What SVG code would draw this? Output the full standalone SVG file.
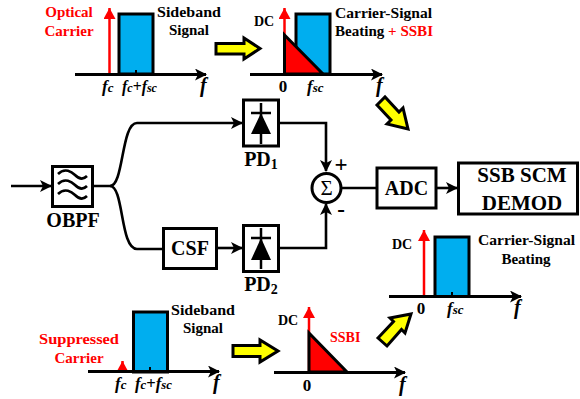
<svg xmlns="http://www.w3.org/2000/svg" width="580" height="399" viewBox="0 0 580 399">
<defs>
<marker id="ah" markerUnits="userSpaceOnUse" markerWidth="14" markerHeight="14" refX="11" refY="6" orient="auto"><path d="M0 0L12 6L0 12L3 6Z" fill="#000"/></marker>
<marker id="ra" markerUnits="userSpaceOnUse" markerWidth="14" markerHeight="14" refX="11" refY="6" orient="auto"><path d="M0 0L11 6L0 12Z" fill="#f00"/></marker>
</defs>
<style>
text{font-family:"Liberation Serif",serif;font-weight:700;fill:#000;font-size:15px}
.m{text-anchor:middle}
.r{fill:#f00}
.d{font-size:14px}
.z{font-size:17px}
.i{font-size:17px;font-style:italic}
.f{font-size:20px;font-style:italic}
.sub{font-size:13px}
.big{font-size:21px}
.lab{font-size:20px}
.pm{font-size:23px}
.sg{font-size:21px;font-weight:400}
.n{font-size:14px}
.ax{stroke:#000;stroke-width:3;fill:none}
.tk{stroke:#000;stroke-width:2;fill:none}
.rl{stroke:#f00;stroke-width:2.5;fill:none}
.b{fill:#00aeef;stroke:#000;stroke-width:3}
.t{fill:#f00;stroke:#000;stroke-width:3}
.y{fill:#ff0;stroke:#000;stroke-width:3}
.box{fill:#fff;stroke:#000;stroke-width:3}
.c{stroke:#000;stroke-width:2.6;fill:none}
.dk{stroke:#000;stroke-width:2.5}
</style>

<g id="connectors">
<path class="c" d="M11 186H51" marker-end="url(#ah)"/>
<path class="c" d="M93 186H110C124 186 121 123 137 123H242" marker-end="url(#ah)"/>
<path class="c" d="M110 186C124 186 120 249 137 249H163"/>
<path class="c" d="M217 248H242" marker-end="url(#ah)"/>
<path class="c" d="M279 123H326V171" marker-end="url(#ah)"/>
<path class="c" d="M279 248H326V204" marker-end="url(#ah)"/>
<path class="c" d="M342 188H377"/>
<path class="c" d="M436 188H457" marker-end="url(#ah)"/>
</g>

<g id="spectrum-1">
<rect class="b" x="119" y="14" width="34" height="60"/>
<path class="rl" d="M109.500 74V8" marker-end="url(#ra)"/>
<path class="ax" d="M75 74.500H206" marker-end="url(#ah)"/>
<path class="tk" d="M136 70V74"/>
<text class="r m" x="69" y="17">Optical</text>
<text class="r m" x="69" y="36">Carrier</text>
<text x="157" y="17" textLength="64" lengthAdjust="spacingAndGlyphs">Sideband</text>
<text class="m" x="189" y="35">Signal</text>
<text class="i" x="102" y="92">f<tspan class="sub">c</tspan></text>
<text class="i" x="122" y="92" textLength="35" lengthAdjust="spacingAndGlyphs">f<tspan class="sub">c</tspan><tspan font-style="normal">+</tspan>f<tspan class="sub">sc</tspan></text>
<text class="f" x="200" y="92">f</text>
</g>

<g id="spectrum-2">
<rect class="b" x="296" y="14" width="34" height="60"/>
<path class="rl" d="M284.500 74V8" marker-end="url(#ra)"/>
<path class="t" d="M284.500 35L323 74H284.500Z"/>
<path class="ax" d="M250 74.500H382" marker-end="url(#ah)"/>
<text class="d" x="254" y="26">DC</text>
<text class="z m" x="283" y="92">0</text>
<text class="i" x="307" y="92">f<tspan class="sub">sc</tspan></text>
<text class="f" x="376" y="92">f</text>
<text x="335" y="18" textLength="97" lengthAdjust="spacingAndGlyphs">Carrier-Signal</text>
<text x="335" y="36" textLength="98" lengthAdjust="spacingAndGlyphs">Beating <tspan class="r">+ SSBI</tspan></text>
</g>

<g id="spectrum-3">
<rect class="b" x="435" y="237" width="34" height="59.500"/>
<path class="rl" d="M424 296V230" marker-end="url(#ra)"/>
<path class="ax" d="M389 296.500H521" marker-end="url(#ah)"/>
<path class="tk" d="M452 292V296"/>
<text class="d" x="392" y="249">DC</text>
<text class="z m" x="421" y="314">0</text>
<text class="i" x="447" y="314">f<tspan class="sub">sc</tspan></text>
<text class="f" x="514" y="314">f</text>
<text x="478" y="245" textLength="97" lengthAdjust="spacingAndGlyphs">Carrier-Signal</text>
<text class="m" x="526" y="264">Beating</text>
</g>

<g id="spectrum-4">
<rect class="b" x="133.500" y="312" width="34" height="60"/>
<path class="rl" d="M122.500 372V361" marker-end="url(#ra)"/>
<path class="ax" d="M88 371.500H219" marker-end="url(#ah)"/>
<path class="tk" d="M150 367V371"/>
<text class="r" x="39" y="344" textLength="80" lengthAdjust="spacingAndGlyphs">Suppressed</text>
<text class="r m" x="79" y="363">Carrier</text>
<text x="171" y="315" textLength="64" lengthAdjust="spacingAndGlyphs">Sideband</text>
<text class="m" x="203" y="333">Signal</text>
<text class="i" x="115" y="389">f<tspan class="sub">c</tspan></text>
<text class="i" x="135" y="389" textLength="37" lengthAdjust="spacingAndGlyphs">f<tspan class="sub">c</tspan><tspan font-style="normal">+</tspan>f<tspan class="sub">sc</tspan></text>
<text class="f" x="213" y="389">f</text>
</g>

<g id="spectrum-5">
<path class="rl" d="M309 372V307" marker-end="url(#ra)"/>
<path class="t" d="M309 333L347 372H309Z"/>
<path class="ax" d="M274 372.500H405" marker-end="url(#ah)"/>
<text class="d" x="278" y="325">DC</text>
<text class="r d" x="330" y="342">SSBI</text>
<text class="z m" x="307" y="391">0</text>
<text class="f" x="399" y="391">f</text>
</g>

<g id="shift-arrow-1"><path class="y" d="M216 43.500H244V38L260 48.500L244 59V54H216Z"/></g>
<g id="shift-arrow-2"><path class="y" d="M377 105L385 97L399 112L403 108L408 129L387 124L391 120Z"/></g>
<g id="shift-arrow-3"><path class="y" d="M378 338L393.500 321.500L390 318L411 314L405 333L401.500 329.500L387 346Z"/></g>
<g id="shift-arrow-4"><path class="y" d="M233 345.500H260V340L278 351L260 362V356.500H233Z"/></g>

<g id="obpf">
<rect class="box" x="52.500" y="166.500" width="40" height="40"/>
<path class="c" d="M58 174C65 167 72 172 75 175C79 179 83 180 87 176M58 184C65 177 72 182 75 185C79 189 83 190 87 186M58 194C65 187 72 192 75 195C79 199 83 200 87 196"/>
<text class="lab m" x="73" y="227">OBPF</text>
</g>

<g id="csf">
<rect class="box" x="163.500" y="228.500" width="53" height="40"/>
<text class="lab m" x="190" y="255">CSF</text>
</g>

<g id="pd1">
<rect class="box" x="243.500" y="100" width="35" height="46"/>
<path class="dk" d="M261 103V144M251 113H271"/>
<path d="M261 113L271 134H251Z" fill="#000"/>
<text class="lab m" x="261" y="166">PD<tspan class="n" dy="3">1</tspan></text>
</g>

<g id="pd2">
<rect class="box" x="243.500" y="225.500" width="35" height="46"/>
<path class="dk" d="M261 228V269M251 238H271"/>
<path d="M261 238L271 260H251Z" fill="#000"/>
<text class="lab m" x="261" y="291">PD<tspan class="n" dy="3">2</tspan></text>
</g>

<g id="sum">
<circle cx="326.500" cy="188" r="14.500" fill="#fff" stroke="#000" stroke-width="3"/>
<text class="sg m" x="326.500" y="195">Σ</text>
<text class="pm m" x="341" y="172">+</text>
<text class="pm m" x="341" y="217">-</text>
</g>

<g id="adc">
<rect class="box" x="377" y="168" width="59" height="40"/>
<text class="lab m" x="406.500" y="195">ADC</text>
</g>

<g id="demod">
<rect class="box" x="458.500" y="163" width="119" height="51"/>
<text class="big m" x="522" y="182">SSB SCM</text>
<text class="big m" x="522" y="210">DEMOD</text>
</g>
</svg>
